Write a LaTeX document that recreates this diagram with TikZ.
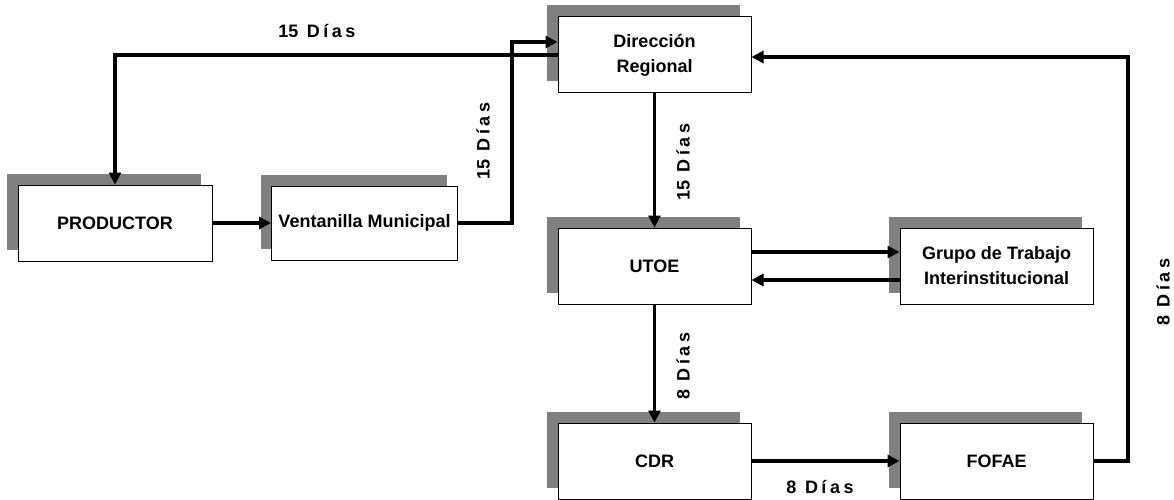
\documentclass[tikz,border=0pt]{standalone}
\usepackage{fontspec}
\setmainfont{Liberation Sans}
\usetikzlibrary{arrows.meta,shadows}
\definecolor{shadowgray}{HTML}{808080}
\newcommand{\lsp}{\hspace{3.5pt}}
\begin{document}
\begin{tikzpicture}[x=1pt,y=-1pt,
  box/.style={draw, line width=1pt, fill=white, minimum width=193pt, minimum height=76pt,
    inner sep=0pt, align=center, font=\bfseries\fontsize{18}{25}\selectfont,
    drop shadow={shadow xshift=-11pt, shadow yshift=11.5pt, fill=shadowgray, opacity=1, draw=none}},
  arr/.style={line width=3.4pt, line join=miter, -{Triangle[length=12pt,width=12pt]}},
  lbl/.style={inner sep=0pt, font=\bfseries\fontsize{18}{20}\selectfont}]
\useasboundingbox (0,0) rectangle (1174,500);
% boxes
\node[box, minimum width=194pt] (prod) at (115,223) {PRODUCTOR};
\node[box, minimum width=186pt, minimum height=74pt] (vent) at (364.5,223) {Ventanilla Municipal};
\node[box] (dir) at (654.5,55) {Dirección\\Regional};
\node[box] (utoe) at (654.5,266) {UTOE};
\node[box] (grupo) at (996.5,266) {Grupo de Trabajo\\Interinstitucional};
\node[box] (cdr) at (654.5,461) {CDR};
\node[box] (fofae) at (996.5,461) {FOFAE};
% turn points
\coordinate (vturn) at (512,42);
\coordinate (rturn) at (1128,57);
% connectors
\draw[arr] (dir.west) -| (prod.north);
\draw[arr] (prod.east) -- (vent.west);
\draw[arr] (vent.east) -| (vturn) -- (dir.west |- vturn);
\draw[arr] (dir.south) -- (utoe.north);
\draw[arr] ([yshift=14pt]utoe.east) -- ([yshift=14pt]grupo.west);
\draw[arr] ([yshift=-14pt]grupo.west) -- ([yshift=-14pt]utoe.east);
\draw[arr] (utoe.south) -- (cdr.north);
\draw[arr] (cdr.east) -- (fofae.west);
\draw[arr] (fofae.east) -| (rturn) -- (dir.east |- rturn);
% labels
\node[lbl] (l1) at (317,31) {15 \lsp D\lsp í\lsp a\lsp s};
\node[lbl, rotate=90] (l2) at (483,141) {15 \lsp D\lsp í\lsp a\lsp s};
\node[lbl, rotate=90] (l3) at (683,162) {15 \lsp D\lsp í\lsp a\lsp s};
\node[lbl, rotate=90] (l4) at (683,366) {8 \lsp D\lsp í\lsp a\lsp s};
\node[lbl, rotate=90] (l5) at (1163,292) {8 \lsp D\lsp í\lsp a\lsp s};
\node[lbl] (l6) at (820,487) {8 \lsp D\lsp í\lsp a\lsp s};
\end{tikzpicture}
\end{document}
